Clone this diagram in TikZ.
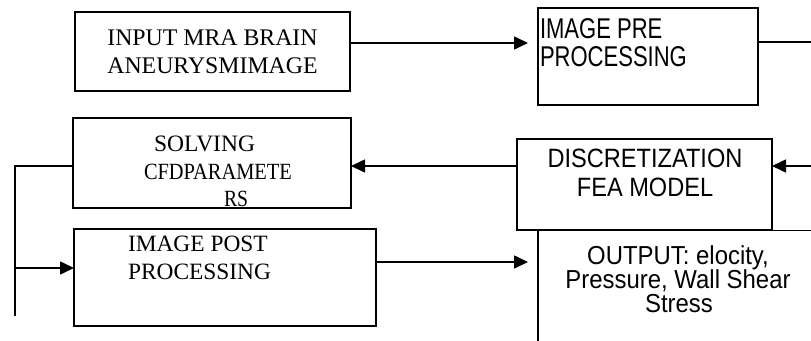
\documentclass[tikz,border=0pt]{standalone}
\usepackage{fontspec}
\setmainfont{Liberation Serif}
\newfontfamily\fpre[FakeStretch=0.77]{Liberation Sans}
\newfontfamily\fdisc[FakeStretch=0.89]{Liberation Sans}
\newfontfamily\fout[FakeStretch=0.92]{Liberation Sans}
\usetikzlibrary{arrows.meta}
\tikzset{
  box/.style={draw, line width=1.8pt, inner sep=0pt, outer sep=0pt},
  txt/.style={inner sep=0pt, outer sep=0pt, anchor=base},
  txtl/.style={inner sep=0pt, outer sep=0pt, anchor=base west},
  conn/.style={line width=1.6pt},
  arr/.style={conn, -{Triangle[length=14pt,width=13pt]}},
}
\begin{document}
\begin{tikzpicture}[x=1pt,y=-1pt]
\useasboundingbox (0,0) rectangle (811,340);
\clip (0,0) rectangle (811,340);
\fill[white] (0,0) rectangle (811,340);

% boxes
\node[box, minimum width=275pt, minimum height=79pt] (in) at (212.5,51.5) {};
\node[box, minimum width=220pt, minimum height=97pt] (pre) at (648,56.5) {};
\node[box, minimum width=278pt, minimum height=90pt] (solve) at (212,163) {};
\node[box, minimum width=255pt, minimum height=91pt] (disc) at (644.5,184.5) {};
\node[box, minimum width=302pt, minimum height=97pt] (post) at (225,277.5) {};
\node[box, minimum width=302pt, minimum height=140pt] (out) at (689,300.5) {};

% texts
\node[txt] (t1a) at (212.5,45) {\fontsize{23.8}{28}\selectfont INPUT MRA BRAIN};
\node[txt] (t1b) at (212.5,73) {\fontsize{23.8}{28}\selectfont ANEURYSMIMAGE};

\node[txtl] (t2a) at (540,38.3) {\fontsize{28.6}{29}\fpre IMAGE PRE};
\node[txtl] (t2b) at (540,66) {\fontsize{28.6}{29}\fpre PROCESSING};

\node[txtl] (t3a) at (154,151.7) {\fontsize{23.5}{28}\selectfont SOLVING};
\node[txtl] (t3b) at (144,179.3) {\scalebox{0.88}[1]{\fontsize{23.2}{28}\selectfont CFDPARAMETE}};
\node[txtl] (t3c) at (224,206) {\scalebox{0.85}[1]{\fontsize{23.2}{28}\selectfont RS}};

\node[txt] (t4a) at (645,167) {\fontsize{26.5}{29}\fdisc DISCRETIZATION};
\node[txt] (t4b) at (645,196) {\fontsize{26.5}{29}\fdisc FEA MODEL};

\node[txtl] (t5a) at (128,251.7) {\fontsize{23.4}{28}\selectfont IMAGE POST};
\node[txtl] (t5b) at (128,279.3) {\fontsize{23.4}{28}\selectfont PROCESSING};

\node[txt] (t6a) at (678,264) {\fontsize{26}{25}\fout OUTPUT: elocity,};
\node[txt] (t6b) at (678,288.5) {\fontsize{26}{25}\fout Pressure, Wall Shear};
\node[txt] (t6c) at (679,312.5) {\fontsize{26}{25}\fout Stress};

% helper coordinates
\coordinate (r1) at (0,43);
\coordinate (e1) at (820,42);
\coordinate (e2) at (820,166);
\coordinate (r2) at (0,166);
\coordinate (c1) at (15,166);
\coordinate (c2) at (15,316);
\coordinate (c3) at (15,268);
\coordinate (r3) at (0,262);

% connectors
\draw[arr, shorten >=10pt] (in.east |- r1) -- (pre.west |- r1);
\draw[conn] (pre.east |- e1) -- (e1);
\draw[arr] (e2) -- (disc.east |- e2);
\draw[arr] (disc.west |- r2) -- (solve.east |- r2);
\draw[conn] (solve.west |- r2) -- (c1) -- (c2);
\draw[arr] (c3) -- (post.west |- c3);
\draw[arr, shorten >=10pt] (post.east |- r3) -- (out.west |- r3);
\end{tikzpicture}
\end{document}
